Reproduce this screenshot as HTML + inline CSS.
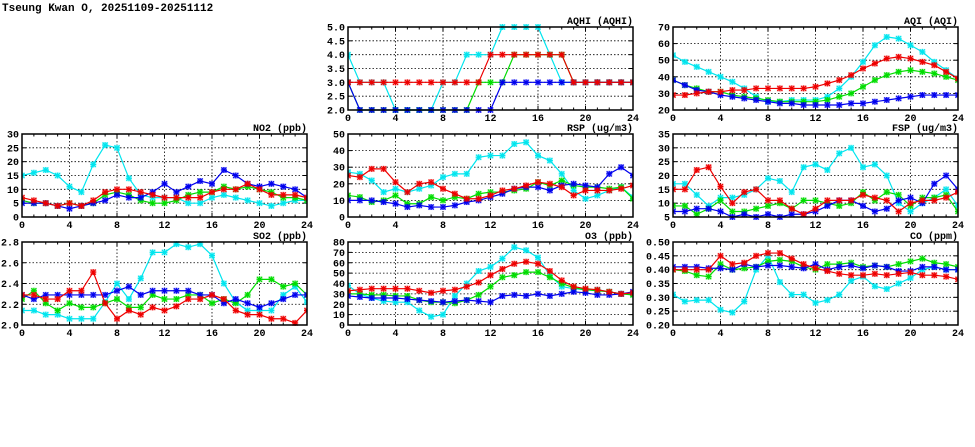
<!DOCTYPE html>
<html><head><meta charset="utf-8"><style>
html,body{margin:0;padding:0;background:#fff;width:975px;height:447px;overflow:hidden}
svg text{font-family:"Liberation Mono","DejaVu Sans Mono",monospace;font-weight:bold;font-size:10px;fill:#000}
</style></head><body>
<svg id="s" width="975" height="447" xmlns="http://www.w3.org/2000/svg">
<text x="2" y="11" style="font-size:11px">Tseung Kwan O, 20251109-20251112</text>
</svg>
<script>
const P=[
{t:"AQHI (AQHI)",x:348,y:27,min:2,max:5,step:0.5,dec:1,d:{
c:[4,3,3,3,2,2,2,2,3,3,4,4,4,5,5,5,5,4,3,3,3,3,3,3,3],
g:[3,2,2,2,2,2,2,2,2,2,2,3,3,3,4,4,4,4,4,3,3,3,3,3,3],
b:[3,2,2,2,2,2,2,2,2,2,2,2,2,3,3,3,3,3,3,3,3,3,3,3,3],
r:[3,3,3,3,3,3,3,3,3,3,3,3,4,4,4,4,4,4,4,3,3,3,3,3,3]}},
{t:"AQI (AQI)",x:673,y:27,min:20,max:70,step:10,dec:0,d:{
c:[53,49,46,43,40,37,33,28,25,25,26,26,26,28,33,40,49,59,64,63,59,55,49,44,39],
g:[38,35,33,31,31,29,28,27,26,25,25,25,25,26,28,30,34,38,41,43,44,43,42,40,38],
b:[38,35,32,31,29,28,27,26,25,24,24,23,23,23,23,24,24,25,26,27,28,29,29,29,29],
r:[29,29,30,31,31,32,32,33,33,33,33,33,34,36,38,41,45,48,51,52,51,49,47,43,39]}},
{t:"NO2 (ppb)",x:22,y:134,min:0,max:30,step:5,dec:0,d:{
c:[15,16,17,15,11,9,19,26,25,14,8,7,7,7,5,5,7,8,7,6,5,4,5,6,6],
g:[6,5,5,4,5,4,5,8,9,8,6,5,5,6,8,9,9,11,10,11,10,9,7,7,6],
b:[5,5,5,4,3,4,5,6,8,7,7,9,12,9,11,13,12,17,15,12,11,12,11,10,7],
r:[7,6,5,4,5,4,6,9,10,10,9,8,7,7,7,7,9,10,10,12,10,8,8,8,7]}},
{t:"RSP (ug/m3)",x:348,y:134,min:0,max:50,step:10,dec:0,d:{
c:[27,26,22,15,17,15,17,19,24,26,26,36,37,37,44,45,37,34,26,16,11,13,16,18,12],
g:[13,12,9,10,13,8,8,12,10,12,11,14,15,15,16,17,21,19,22,19,18,18,17,18,11],
b:[10,10,10,9,8,6,7,6,6,7,9,10,12,14,17,18,18,16,19,20,19,18,26,30,25],
r:[25,24,29,29,21,15,20,21,17,14,11,11,13,16,17,19,21,20,18,13,16,16,16,17,19]}},
{t:"FSP (ug/m3)",x:673,y:134,min:5,max:35,step:5,dec:0,d:{
c:[17,17,13,9,12,12,13,15,19,18,14,23,24,22,28,30,23,24,20,10,7,10,12,15,9],
g:[9,9,6,8,11,7,7,8,9,10,8,11,11,10,9,10,14,11,14,13,9,12,12,13,7],
b:[7,7,8,8,7,5,6,5,6,5,6,6,7,9,11,11,9,7,8,11,12,10,17,20,15],
r:[15,15,22,23,16,10,14,15,11,11,8,6,8,11,11,11,13,12,11,7,10,11,11,12,14]}},
{t:"SO2 (ppb)",x:22,y:242,min:2.0,max:2.8,step:0.2,dec:1,d:{
c:[2.14,2.14,2.10,2.10,2.06,2.06,2.06,2.22,2.40,2.25,2.45,2.70,2.70,2.78,2.75,2.78,2.67,2.40,2.22,2.14,2.14,2.14,2.29,2.37,2.22],
g:[2.25,2.33,2.21,2.14,2.21,2.17,2.17,2.21,2.25,2.17,2.17,2.29,2.25,2.25,2.29,2.29,2.21,2.25,2.21,2.29,2.44,2.44,2.37,2.40,2.29],
b:[2.29,2.25,2.29,2.29,2.29,2.29,2.29,2.29,2.33,2.37,2.29,2.33,2.33,2.33,2.33,2.29,2.29,2.21,2.25,2.21,2.17,2.21,2.25,2.29,2.29],
r:[2.29,2.29,2.25,2.25,2.33,2.33,2.51,2.21,2.06,2.14,2.10,2.17,2.14,2.18,2.25,2.25,2.29,2.25,2.14,2.10,2.10,2.06,2.06,2.02,2.14]}},
{t:"O3 (ppb)",x:348,y:242,min:0,max:80,step:10,dec:0,d:{
c:[38,30,26,23,22,22,14,8,10,28,40,52,56,64,75,72,65,48,37,35,34,34,32,30,30],
g:[30,30,29,29,28,28,24,22,22,21,24,29,37,46,48,51,51,46,40,36,34,33,32,30,29],
b:[28,27,26,26,26,25,24,23,22,23,24,23,22,28,29,28,30,28,30,32,31,29,29,30,32],
r:[33,34,35,35,35,35,33,31,33,34,37,41,48,54,59,61,59,52,43,37,35,34,32,30,31]}},
{t:"CO (ppm)",x:673,y:242,min:0.2,max:0.5,step:0.05,dec:2,d:{
c:[.31,.285,.29,.29,.255,.245,.285,.40,.45,.355,.31,.31,.28,.29,.31,.36,.375,.34,.33,.35,.37,.40,.41,.40,.40],
g:[.40,.395,.38,.375,.42,.40,.405,.41,.43,.435,.43,.41,.40,.42,.42,.425,.41,.415,.41,.42,.43,.44,.425,.42,.41],
b:[.41,.41,.41,.405,.405,.40,.42,.41,.415,.415,.41,.405,.42,.40,.41,.415,.405,.415,.41,.395,.395,.41,.41,.40,.40],
r:[.40,.40,.40,.40,.45,.42,.425,.45,.46,.46,.44,.42,.405,.395,.385,.38,.38,.385,.38,.385,.39,.38,.38,.375,.365]}}
];
const C={c:"#00e5ee",g:"#00dd00",b:"#0000ee",r:"#ee0000"};
const W=285,H=83;let o="";
for(const p of P){
 const X=i=>p.x+i*W/24, Y=v=>p.y+H-(v-p.min)/(p.max-p.min)*H;
 o+=`<text x="${p.x+W}" y="${p.y-3}" text-anchor="end">${p.t}</text>`;
 const n=Math.round((p.max-p.min)/p.step);
 for(let k=0;k<=n;k++){const v=p.min+k*p.step,y=Y(v);
  if(k>0&&k<n)o+=`<line x1="${p.x}" x2="${p.x+W}" y1="${y}" y2="${y}" stroke="#000" stroke-width="0.8" stroke-dasharray="1.5,2"/>`;
  o+=`<line x1="${p.x}" x2="${p.x+4}" y1="${y}" y2="${y}" stroke="#000"/><line x1="${p.x+W-4}" x2="${p.x+W}" y1="${y}" y2="${y}" stroke="#000"/>`;
  o+=`<text x="${p.x-3}" y="${y+3.5}" text-anchor="end">${v.toFixed(p.dec)}</text>`;}
 for(let i=0;i<=24;i++){const x=X(i),L=i%4==0?4:2.5;
  if(i%4==0&&i>0&&i<24)o+=`<line x1="${x}" x2="${x}" y1="${p.y}" y2="${p.y+H}" stroke="#000" stroke-width="0.8" stroke-dasharray="1.5,2"/>`;
  o+=`<line x1="${x}" x2="${x}" y1="${p.y}" y2="${p.y+L}" stroke="#000"/><line x1="${x}" x2="${x}" y1="${p.y+H-L}" y2="${p.y+H}" stroke="#000"/>`;
  if(i%4==0)o+=`<text x="${x}" y="${p.y+H+11}" text-anchor="middle">${i}</text>`;}
 o+=`<svg x="${p.x}" y="${p.y-4}" width="${W}" height="${H+8}" overflow="hidden"><g transform="translate(${-p.x},${-(p.y-4)})">`;
 for(const k of ["c","g","b","r"]){const a=p.d[k];
  o+=`<polyline fill="none" stroke="${C[k]}" stroke-width="1.2" points="${a.map((v,i)=>X(i)+","+Y(v)).join(" ")}"/>`;
  for(let i=0;i<a.length;i++){const x=X(i),y=Y(a[i]);
   o+=`<rect x="${x-3}" y="${y-3}" width="6" height="6" fill="${C[k]}" fill-opacity="0.35"/><path d="M${x-3} ${y}h6M${x} ${y-3}v6M${x-2.5} ${y-2.5}l5 5M${x+2.5} ${y-2.5}l-5 5" stroke="${C[k]}" stroke-width="1.1"/>`;}}
 o+=`</g></svg>`;
 o+=`<rect x="${p.x}" y="${p.y}" width="${W}" height="${H}" fill="none" stroke="#000" stroke-width="1.5"/>`;
}
document.getElementById("s").insertAdjacentHTML("beforeend",o);
</script>
</body></html>
